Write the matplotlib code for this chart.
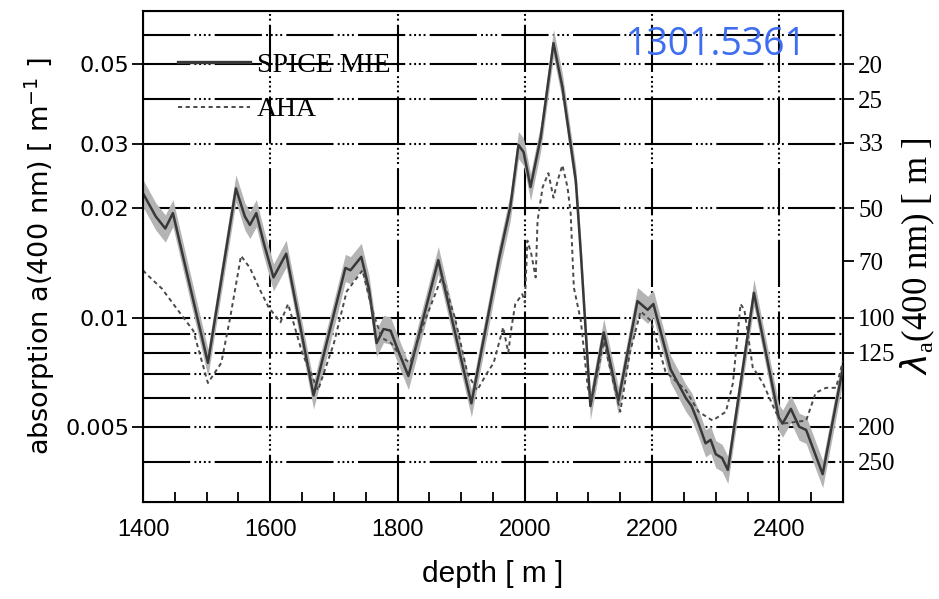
import numpy as np
import matplotlib.pyplot as plt
from matplotlib.lines import Line2D
from matplotlib.ticker import MultipleLocator, NullLocator

plt.rcParams['lines.scale_dashes'] = False

# SPICE MIE absorption vs depth
spice_depth = [1400, 1420, 1435, 1447, 1502, 1546, 1560, 1568, 1578, 1590, 1605, 1625,
               1668, 1718, 1726, 1743, 1755, 1767, 1778, 1789, 1801, 1817, 1864, 1916,
               1959, 1977, 1990, 1998, 2009, 2025, 2045, 2059, 2080, 2088, 2103, 2124,
               2147, 2177, 2193, 2202, 2229, 2253, 2262, 2273, 2284, 2292, 2300, 2310,
               2319, 2360, 2399, 2405, 2418, 2431, 2442, 2468, 2500]
spice_abs = [0.0220, 0.0190, 0.0176, 0.0194, 0.0075, 0.0227, 0.0190, 0.0180, 0.0194, 0.0160,
             0.0129, 0.0150, 0.0061, 0.0137, 0.0135, 0.0147, 0.0120, 0.0085, 0.0093, 0.0092,
             0.0081, 0.0069, 0.0144, 0.0058, 0.0144, 0.0201, 0.0299, 0.0286, 0.0229, 0.0314,
             0.0571, 0.0432, 0.0239, 0.0150, 0.0057, 0.0091, 0.0059, 0.0111, 0.0105, 0.0109,
             0.0072, 0.0060, 0.0057, 0.0051, 0.0045, 0.0046, 0.0042, 0.0041, 0.0038, 0.0117,
             0.0053, 0.0051, 0.0056, 0.0050, 0.0049, 0.0037, 0.0073]

# AHA model
aha_depth = [1400, 1405, 1430, 1458, 1479, 1502, 1523, 1537, 1554, 1568, 1584, 1597, 1616,
             1628, 1650, 1675, 1700, 1720, 1745, 1760, 1775, 1790, 1805, 1820, 1840, 1870,
             1890, 1910, 1925, 1940, 1951, 1966, 1974, 1979, 1985, 1996, 2000, 2004, 2010,
             2017, 2020, 2028, 2037, 2045, 2052, 2059, 2067, 2072, 2077, 2088, 2099, 2105,
             2124, 2150, 2165, 2182, 2198, 2221, 2253, 2273, 2295, 2316, 2327, 2339, 2345,
             2358, 2374, 2394, 2405, 2442, 2457, 2473, 2489, 2500]
aha_abs = [0.0135, 0.0132, 0.0120, 0.0103, 0.0092, 0.0066, 0.0075, 0.0100, 0.0148, 0.0137,
           0.0119, 0.0107, 0.0097, 0.0109, 0.0080, 0.0063, 0.0085, 0.0118, 0.0135, 0.0105,
           0.0088, 0.0085, 0.0078, 0.0075, 0.0095, 0.0130, 0.0100, 0.0070, 0.0063, 0.0070,
           0.0075, 0.0094, 0.0080, 0.0094, 0.0109, 0.0116, 0.0110, 0.0163, 0.0150, 0.0129,
           0.0185, 0.0229, 0.0250, 0.0214, 0.0240, 0.0263, 0.0229, 0.0194, 0.0121, 0.0098,
           0.0064, 0.0059, 0.0086, 0.0055, 0.0080, 0.0104, 0.0098, 0.0071, 0.0063, 0.0055,
           0.0052, 0.0055, 0.0066, 0.0109, 0.0105, 0.0073, 0.0066, 0.0055, 0.0051, 0.0052,
           0.0062, 0.0064, 0.0064, 0.0076]

left_ticks = [0.005, 0.01, 0.02, 0.03, 0.05]
left_labels = ['0.005', '0.01', '0.02', '0.03', '0.05']
right_ticks = [20, 25, 33, 50, 70, 100, 125, 200, 250]
hgrid = [0.004, 0.005, 0.006, 0.007, 0.008, 0.009, 0.01, 0.02, 0.03, 0.04, 0.05, 0.06]
vgrid = [1600, 1800, 2000, 2200, 2400]

grid_dash = (0, (34, 3, 1.4, 2, 1.4, 2, 1.4, 2, 1.4, 3))
narrow = ['DejaVu Sans Condensed', 'Liberation Sans Narrow', 'Liberation Sans']

fig = plt.figure(figsize=(9.39, 5.99), dpi=100)
ax = fig.add_axes([0.1523, 0.1619, 0.7455, 0.8197])
ax.set_yscale('log')
ax.set_xlim(1400, 2500)
ax.set_ylim(0.0031, 0.070)

for v in hgrid:
    ax.axhline(v, color='black', lw=1.5, ls=grid_dash, zorder=1)
for v in vgrid:
    ax.axvline(v, color='black', lw=1.5, ls=grid_dash, zorder=1)

sd = np.array(spice_depth)
sa = np.array(spice_abs)
ax.fill_between(sd, sa / 1.09, sa * 1.09, color='#b4b4b4', lw=0, zorder=2)
ax.plot(sd, sa, color='#383838', lw=1.8, zorder=3)
ax.plot(aha_depth, aha_abs, color='#4a4a4a', lw=1.4, ls=(0, (3, 2.5)), zorder=3)

ax.set_yticks(left_ticks)
ax.set_yticklabels(left_labels)
ax.yaxis.set_minor_locator(NullLocator())
ax.tick_params(axis='y', direction='inout', length=16, width=1.3, labelsize=16, pad=2)
ax.set_xticks(range(1400, 2401, 200))
ax.xaxis.set_minor_locator(MultipleLocator(50))
ax.tick_params(axis='x', which='both', direction='in', length=7, width=1.3, pad=12)
for lab in ax.get_xticklabels():
    lab.set_family(narrow)
    lab.set_fontsize(17)
for s in ax.spines.values():
    s.set_linewidth(1.5)

ax.set_xlabel('depth [ m ]', fontsize=21.5, family=narrow, labelpad=14)
ax.set_ylabel(r'absorption a(400 nm) [ m$^{\mathregular{-1}}$ ]', fontsize=19.5, labelpad=6)

ax2 = ax.twinx()
ax2.set_yscale('log')
ax2.set_ylim(ax.get_ylim())
ax2.set_yticks([1.0 / r for r in right_ticks])
ax2.set_yticklabels([str(r) for r in right_ticks], family='Liberation Serif', fontsize=18)
ax2.yaxis.set_minor_locator(NullLocator())
ax2.tick_params(axis='y', direction='out', length=8, width=1.3, pad=3)
ax2.set_ylabel(r'$\lambda_{\mathregular{a}}$(400 nm) [ m ]', family='Liberation Serif',
               fontsize=25, labelpad=2)

handles = [Line2D([], [], color='#383838', lw=2.4),
           Line2D([], [], color='#4a4a4a', lw=1.4, ls=(0, (3, 2.5)))]
leg = ax.legend(handles, ['SPICE MIE', 'AHA'], loc='upper left', bbox_to_anchor=(0.014, 0.966),
                frameon=False, handlelength=2.6, handletextpad=0.25, labelspacing=0.68,
                prop={'family': 'Liberation Serif', 'size': 20})
leg.set_zorder(5)

fig.text(0.763, 0.925, '1301.5361', color='#3d6ef2', fontsize=27, family='Open Sans',
         ha='center', va='center')

fig.savefig('out.png', dpi=100)
